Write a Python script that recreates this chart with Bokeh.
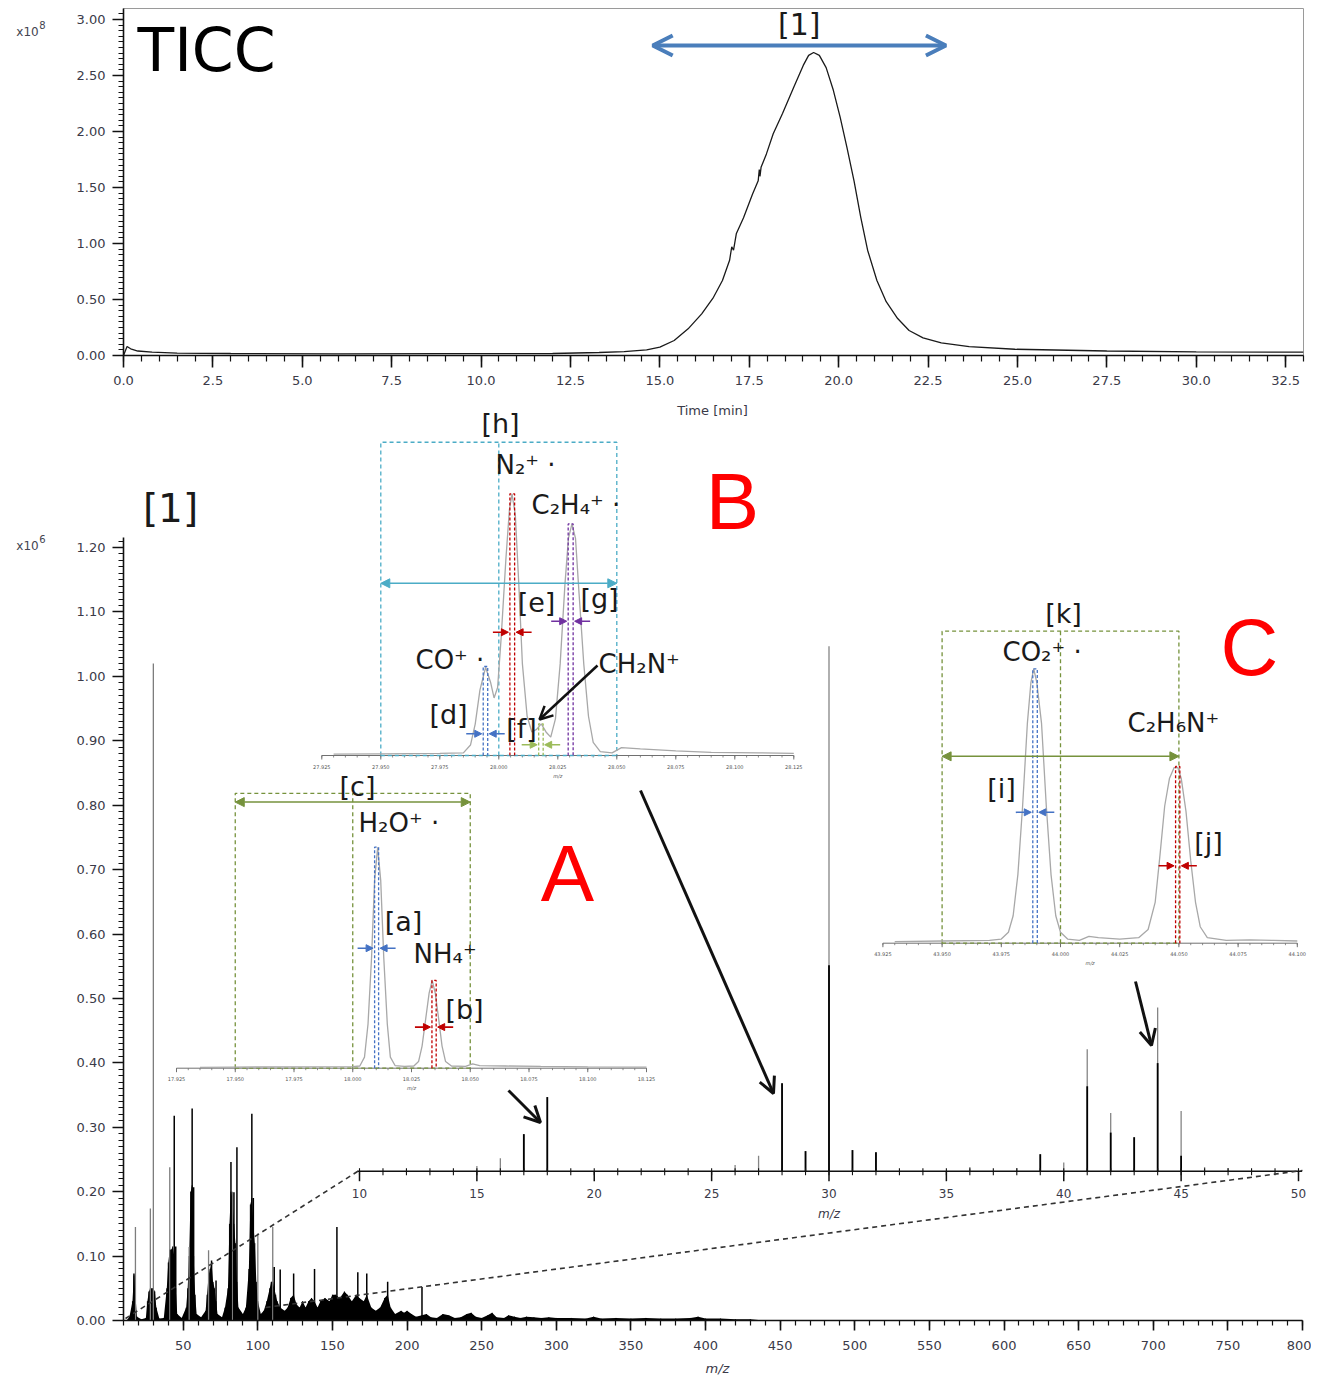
from bokeh.plotting import figure
from bokeh.models import (Range1d, FixedTicker, PrintfTickFormatter, Label, Arrow,
                          OpenHead, NormalHead)
from bokeh.layouts import column, row
from bokeh.core.properties import value
from bokeh.embed import file_html
from bokeh.resources import INLINE

# ======================= DATA =======================
# Total ion current chromatogram (x10^8)
ticc_time = [0.0, 0.1, 0.2, 0.4, 0.8, 1.5, 3.0, 6.0, 9.0, 12.0, 13.3, 14.0, 14.63, 15.0,
             15.4, 15.79, 16.17, 16.5, 16.75, 16.95, 17.01, 17.06, 17.14, 17.34, 17.59,
             17.75, 17.78, 17.8, 17.83, 17.98, 18.17, 18.43, 18.75, 19.01, 19.16, 19.3,
             19.46, 19.65, 19.85, 20.04, 20.23, 20.43, 20.62, 20.81, 21.07, 21.33, 21.65,
             21.97, 22.36, 22.87, 23.65, 24.93, 27.5, 30.0, 33.0]
ticc_int = [0.0, 0.08, 0.06, 0.04, 0.03, 0.022, 0.018, 0.015, 0.016, 0.018, 0.027, 0.035,
            0.05, 0.074, 0.134, 0.238, 0.372, 0.52, 0.67, 0.85, 0.97, 0.94, 1.09, 1.23,
            1.44, 1.56, 1.66, 1.6, 1.68, 1.8, 1.98, 2.16, 2.4, 2.59, 2.68, 2.705, 2.68,
            2.57, 2.37, 2.13, 1.86, 1.56, 1.23, 0.94, 0.67, 0.48, 0.33, 0.223, 0.158,
            0.113, 0.08, 0.056, 0.04, 0.033, 0.03]
tic_window = [14.8, 23.0]          # time window [1]

# Mass spectrum of window [1] (x10^6)
ms_thin_mz = [18, 28, 30, 41, 54, 67, 83, 100, 110]
ms_thin_int = [0.145, 0.174, 1.02, 0.238, 0.114, 0.109, 0.20, 0.135, 0.145]
ms_dark_mz = [17, 42, 44, 45, 56, 57, 69, 72, 82, 84, 86, 96, 97, 111, 115, 124, 138,
              153, 167, 173, 187, 210]
ms_dark_int = [0.073, 0.11, 0.318, 0.115, 0.329, 0.207, 0.093, 0.062, 0.246, 0.199,
               0.269, 0.321, 0.19, 0.083, 0.079, 0.073, 0.08, 0.145, 0.075, 0.073, 0.06,
               0.052]
ms_fill_mz = [12, 14, 16, 17, 18, 19, 22, 25, 26, 27, 28, 30, 31, 32, 34, 37, 39, 40, 41,
              42, 43, 44, 45, 46, 49, 52, 53, 54, 55, 56, 57, 58, 59, 62, 65, 66, 67, 68,
              69, 70, 71, 72, 73, 76, 78, 80, 81, 82, 83, 84, 85, 86, 87, 90, 92, 94, 95,
              96, 97, 98, 99, 100, 102, 104, 106, 108, 109, 110, 111, 112, 113, 115, 118,
              120, 122, 124, 126, 128, 130, 132, 134, 136, 138, 140, 142, 145, 148, 150,
              152, 155, 158, 160, 163, 166, 168, 171, 173, 176, 179, 182, 185, 187, 189,
              192, 196, 198, 200, 203, 206, 210, 213, 216, 220, 224, 228, 232, 236, 240,
              243, 246, 250, 254, 257, 260, 265, 268, 272, 276, 280, 285, 290, 295, 300,
              310, 320, 325, 330, 340, 350, 360, 370, 380, 390, 395, 400, 410, 420, 430,
              440]
ms_fill_int = [0.0, 0.006, 0.03, 0.07, 0.04, 0.006, 0.002, 0.004, 0.03, 0.045, 0.05, 0.05,
               0.045, 0.02, 0.003, 0.004, 0.05, 0.09, 0.11, 0.11, 0.115, 0.1, 0.05, 0.01,
               0.004, 0.02, 0.05, 0.1, 0.2, 0.21, 0.1, 0.04, 0.01, 0.005, 0.015, 0.04, 0.07,
               0.08, 0.09, 0.06, 0.05, 0.03, 0.01, 0.005, 0.02, 0.05, 0.15, 0.2, 0.19, 0.15,
               0.12, 0.06, 0.02, 0.01, 0.02, 0.08, 0.18, 0.19, 0.15, 0.12, 0.06, 0.03, 0.01,
               0.015, 0.03, 0.05, 0.06, 0.06, 0.05, 0.04, 0.03, 0.02, 0.015, 0.02, 0.035,
               0.04, 0.025, 0.02, 0.03, 0.02, 0.03, 0.035, 0.03, 0.02, 0.03, 0.035, 0.03,
               0.04, 0.04, 0.035, 0.045, 0.04, 0.03, 0.04, 0.035, 0.03, 0.04, 0.02, 0.015,
               0.02, 0.035, 0.04, 0.02, 0.01, 0.015, 0.012, 0.015, 0.01, 0.006, 0.008, 0.01,
               0.005, 0.004, 0.01, 0.008, 0.004, 0.005, 0.01, 0.012, 0.006, 0.004, 0.008,
               0.012, 0.005, 0.004, 0.008, 0.006, 0.004, 0.006, 0.005, 0.004, 0.005, 0.004,
               0.004, 0.003, 0.006, 0.003, 0.004, 0.003, 0.004, 0.003, 0.003, 0.004, 0.006,
               0.003, 0.003, 0.002, 0.002, 0.0]

# Expanded spectrum m/z 10-50 (x10^6)
zoom_mz = [15, 16, 17, 18, 26, 27, 28, 29, 30, 31, 32, 36, 38, 39, 40, 41, 42, 43, 44, 45,
           46, 47]
zoom_int = [0.01, 0.025, 0.072, 0.144, 0.012, 0.03, 0.171, 0.039, 1.02, 0.041, 0.037,
            0.008, 0.006, 0.033, 0.017, 0.237, 0.113, 0.066, 0.318, 0.117, 0.008, 0.006]
zoom_core_mz = [17, 18, 28, 29, 30, 31, 32, 39, 41, 42, 43, 44, 45]
zoom_core_int = [0.072, 0.144, 0.171, 0.039, 0.40, 0.041, 0.037, 0.033, 0.165, 0.075,
                 0.066, 0.21, 0.03]
zoom_ticks = [10, 15, 20, 25, 30, 35, 40, 45, 50]
zoom_tick_labels = ["10", "15", "20", "25", "30", "35", "40", "45", "50"]

# Inset A: nominal m/z 18 (relative %)
a_mz = [17.935, 17.950, 17.975, 18.000, 18.003, 18.005, 18.0065, 18.008, 18.0093, 18.0106,
        18.0119, 18.0132, 18.0147, 18.016, 18.018, 18.022, 18.026, 18.028, 18.0295, 18.031,
        18.0325, 18.0338, 18.0351, 18.0366, 18.038, 18.0395, 18.042, 18.048, 18.051,
        18.054, 18.065, 18.080, 18.100, 18.125]
a_rel = [0.4, 0.5, 0.6, 0.7, 1.0, 5, 20, 50, 85, 100, 85, 50, 20, 5, 1.2, 0.8, 1.0, 3, 10,
         22, 34, 39.7, 34, 22, 10, 3, 1, 0.8, 2, 1.2, 1.0, 0.8, 0.6, 0.5]
a_ticks = [17.925, 17.950, 17.975, 18.000, 18.025, 18.050, 18.075, 18.100, 18.125]
a_tick_labels = ["17.925", "17.950", "17.975", "18.000", "18.025", "18.050", "18.075",
                 "18.100", "18.125"]
a_peak_lo = [18.0093, 18.0337]
a_peak_hi = [18.0110, 18.0355]
a_peak_top = [100, 39.7]

# Inset B: nominal m/z 28
b_mz = [27.930, 27.950, 27.975, 27.985, 27.988, 27.990, 27.992, 27.9944, 27.9965, 27.998,
        27.9995, 28.001, 28.003, 28.0045, 28.0056, 28.007, 28.0085, 28.010, 28.012,
        28.014, 28.016, 28.018, 28.020, 28.022, 28.024, 28.026, 28.028, 28.0295, 28.031,
        28.0325, 28.034, 28.036, 28.038, 28.040, 28.043, 28.048, 28.052, 28.060, 28.075,
        28.090, 28.110, 28.125]
b_rel = [0.5, 0.6, 0.8, 1, 4, 12, 25, 33.7, 28, 22, 26, 45, 75, 94, 100, 92, 65, 35, 15, 9,
         10, 12.1, 9, 7, 14, 35, 65, 83, 88.5, 83, 62, 35, 15, 5, 1.5, 1, 3, 2.5, 1.8, 1.2,
         1, 0.8]
b_ticks = [27.925, 27.950, 27.975, 28.000, 28.025, 28.050, 28.075, 28.100, 28.125]
b_tick_labels = ["27.925", "27.950", "27.975", "28.000", "28.025", "28.050", "28.075",
                 "28.100", "28.125"]
b_peak_lo = [27.9934, 28.0047, 28.0169, 28.0294]
b_peak_hi = [27.9953, 28.0067, 28.0188, 28.0315]
b_peak_top = [34, 100, 12.1, 88.5]

# Inset C: nominal m/z 44
c_mz = [43.930, 43.950, 43.970, 43.975, 43.978, 43.980, 43.982, 43.984, 43.986, 43.9875,
        43.9887, 43.990, 43.992, 43.994, 43.996, 43.998, 44.000, 44.003, 44.008, 44.012,
        44.016, 44.025, 44.033, 44.037, 44.040, 44.042, 44.044, 44.046, 44.048, 44.0495,
        44.051, 44.053, 44.055, 44.057, 44.059, 44.062, 44.070, 44.080, 44.090, 44.100]
c_rel = [0.6, 0.8, 1, 1.5, 4, 10, 25, 50, 80, 95, 100, 95, 80, 50, 25, 10, 4, 1.5, 1, 2.5,
         2, 1.5, 2, 5, 15, 32, 50, 60, 64, 64.1, 60, 48, 30, 15, 6, 2, 1, 1.2, 1, 0.8]
c_ticks = [43.925, 43.950, 43.975, 44.000, 44.025, 44.050, 44.075, 44.100]
c_tick_labels = ["43.925", "43.950", "43.975", "44.000", "44.025", "44.050", "44.075",
                 "44.100"]
c_peak_lo = [43.9883, 44.0486]
c_peak_hi = [43.9902, 44.0504]
c_peak_top = [100, 64.4]

# ======================= LAYOUT HELPERS =======================
FONT = "DejaVu Sans"
TICK_COLOR = "#3a3a48"
STRIP = 60          # width of the left strip holding the axis multipliers

# top panel: page px -> data
def TX(px): return (px - 123) / (1180 / 33)
def TY(py): return (355 - py) / 112.0

# bottom panel: page px -> data
XS = (1302 - 123) / (800 - 10)
YS = 773 / 1.2
def BX(px): return 10 + (px - 123) / XS
def BY(py): return (1320 - py) / YS


def style_axis(ax, major_out, minor_out, standoff):
    ax.axis_line_color = "#111111"
    ax.axis_line_width = 1.6
    ax.major_tick_line_color = "#111111"
    ax.major_tick_line_width = 1.6
    ax.minor_tick_line_color = "#111111"
    ax.minor_tick_line_width = 1.2
    ax.major_tick_in = 0
    ax.major_tick_out = major_out
    ax.minor_tick_in = 0
    ax.minor_tick_out = minor_out
    ax.major_label_standoff = standoff
    ax.major_label_text_font = FONT
    ax.major_label_text_font_size = "13px"
    ax.major_label_text_color = TICK_COLOR


def label(fig, x, y, text, size, color="#1a1a1a", font=FONT, align="center",
          style="normal"):
    fig.add_layout(Label(x=x, y=y, text=text, text_font=font,
                         text_font_size=f"{size}px", text_color=color,
                         text_align=align, text_baseline="middle",
                         text_font_style=style))


def strip_fig(y0, y1, base, sup, exponent):
    """Left margin strip showing the axis multiplier 'x10^n' (y data = page px)."""
    s = figure(width=STRIP, height=y1 - y0, x_range=Range1d(0, STRIP),
               y_range=Range1d(y1, y0), output_backend="svg", toolbar_location=None,
               x_axis_location=None, y_axis_location=None,
               min_border_left=0, min_border_right=0, min_border_top=0,
               min_border_bottom=0)
    s.grid.visible = False
    s.outline_line_color = None
    s.text(x=[27], y=[base], text=["x10"], text_font=value(FONT), text_font_size="12px",
           text_align="center", text_baseline="middle", text_color="#444450")
    s.text(x=[42], y=[sup], text=[exponent], text_font=value(FONT),
           text_font_size="10px", text_align="center", text_baseline="middle",
           text_color="#444450")
    return s


# ======================= TOP: TICC =======================
top = figure(width=1311 - STRIP, height=400, x_range=Range1d(0, 33),
             y_range=Range1d(0, TY(8)), output_backend="svg", toolbar_location=None,
             min_border_left=123 - STRIP, min_border_right=8, min_border_top=8,
             min_border_bottom=45)
top.xgrid.visible = False
top.ygrid.visible = False
top.outline_line_color = "#9a9a9a"
top.xaxis.ticker = FixedTicker(ticks=[i * 2.5 for i in range(14)],
                               minor_ticks=[i * 0.5 for i in range(67)])
top.xaxis.formatter = PrintfTickFormatter(format="%.1f")
top.yaxis.ticker = FixedTicker(ticks=[i * 0.5 for i in range(7)],
                               minor_ticks=[i * 0.05 for i in range(62)])
top.yaxis.formatter = PrintfTickFormatter(format="%.2f")
style_axis(top.xaxis[0], 12, 6, 8)
style_axis(top.yaxis[0], 11, 5, 7)

top.line(ticc_time, ticc_int, line_color="#1a1a1a", line_width=1.3)

label(top, TX(137), TY(49), "TICC", 60, color="#000000", align="left")
label(top, (tic_window[0] + tic_window[1]) / 2, TY(24), "[1]", 30)
top.add_layout(Arrow(x_start=tic_window[0], y_start=TY(45), x_end=tic_window[1],
                     y_end=TY(45), line_color="#4A7EBB", line_width=4,
                     start=OpenHead(size=20, line_color="#4A7EBB", line_width=4),
                     end=OpenHead(size=20, line_color="#4A7EBB", line_width=4)))

# ======================= BOTTOM: spectrum =======================
# frame runs to the right edge of the canvas so that inset labels are not clipped;
# the m/z axis itself stops at 800
bot = figure(width=1311 - STRIP, height=986, x_range=Range1d(10, BX(1311)),
             y_range=Range1d(0, BY(400)), output_backend="svg", toolbar_location=None,
             min_border_left=123 - STRIP, min_border_right=0, min_border_top=0,
             min_border_bottom=66)
bot.xgrid.visible = False
bot.ygrid.visible = False
bot.outline_line_color = None
bot.xaxis.ticker = FixedTicker(ticks=list(range(50, 801, 50)),
                               minor_ticks=list(range(10, 801, 10)))
bot.xaxis.bounds = (10, 800)
bot.yaxis.ticker = FixedTicker(ticks=[i * 0.1 for i in range(13)],
                               minor_ticks=[i * 0.01 for i in range(122)])
bot.yaxis.formatter = PrintfTickFormatter(format="%.2f")
bot.yaxis.bounds = (0, 1.215)
style_axis(bot.xaxis[0], 10, 5, 10)
style_axis(bot.yaxis[0], 11, 5, 7)
bot.xaxis.axis_label = "m/z"
bot.xaxis.axis_label_text_font = FONT
bot.xaxis.axis_label_text_font_size = "13px"
bot.xaxis.axis_label_text_font_style = "italic"
bot.xaxis.axis_label_text_color = TICK_COLOR
bot.xaxis.axis_label_standoff = 8

label(bot, BX(712), BY(410), "Time [min]", 13, color=TICK_COLOR)
label(bot, BX(170), BY(508), "[1]", 39)

# main spectrum
bot.varea(x=ms_fill_mz, y1=0, y2=ms_fill_int, fill_color="#000000")
bot.segment(x0=ms_fill_mz, y0=0, x1=ms_fill_mz, y1=ms_fill_int, line_color="#000000",
            line_width=1)
bot.segment(x0=ms_thin_mz, y0=0, x1=ms_thin_mz, y1=ms_thin_int, line_color="#7d7d7d",
            line_width=1.3)
bot.segment(x0=ms_dark_mz, y0=0, x1=ms_dark_mz, y1=ms_dark_int, line_color="#000000",
            line_width=1.5)

# expanded region m/z 10-50
ZPY = 514.7
zoom = bot.subplot(x_source=Range1d(10, 50), y_source=Range1d(0, 1),
                   x_target=Range1d(BX(359), BX(1298)),
                   y_target=Range1d(BY(1170.7), BY(1170.7 - ZPY)))
zoom.segment(x0=zoom_mz, y0=0, x1=zoom_mz, y1=zoom_int, line_color="#858585",
             line_width=1.3)
zoom.segment(x0=zoom_core_mz, y0=0, x1=zoom_core_mz, y1=zoom_core_int,
             line_color="#000000", line_width=1.8)
zoom.segment(x0=[9.9], y0=[0], x1=[50.15], y1=[0], line_color="#111111", line_width=1.6)
zmin = list(range(10, 51))
zoom.segment(x0=zmin, y0=[3 / ZPY] * len(zmin), x1=zmin, y1=[-4 / ZPY] * len(zmin),
             line_color="#111111", line_width=1.1)
zoom.segment(x0=zoom_ticks, y0=[0] * len(zoom_ticks), x1=zoom_ticks,
             y1=[-10 / ZPY] * len(zoom_ticks), line_color="#111111", line_width=1.5)
zoom.text(x=zoom_ticks, y=[-22 / ZPY] * len(zoom_ticks), text=zoom_tick_labels,
          text_font=value(FONT), text_font_size="12px", text_align="center",
          text_baseline="middle", text_color=TICK_COLOR)
zoom.text(x=[30], y=[-43 / ZPY], text=["m/z"], text_font=value(FONT),
          text_font_size="12px", text_font_style="italic", text_align="center",
          text_baseline="middle", text_color=TICK_COLOR)

# dashed connectors from main spectrum to expanded axis
bot.segment(x0=[BX(125), BX(265)], y0=[BY(1318), BY(1307)],
            x1=[BX(357), BX(1302)], y1=[BY(1171), BY(1170)],
            line_color="#333333", line_width=1.6, line_dash="5 4")


class Inset:
    def __init__(self, fig, xs, px, base_py, top_py):
        self.fig = fig
        self.xs = xs
        self.px = px
        self.base = base_py
        self.ppx = (px[1] - px[0]) / (xs[1] - xs[0])
        self.ppy = (base_py - top_py) / 100.0
        self.sub = fig.subplot(x_source=Range1d(*xs), y_source=Range1d(0, 100),
                               x_target=Range1d(BX(px[0]), BX(px[1])),
                               y_target=Range1d(BY(base_py), BY(top_py)))

    def pgx(self, m):
        return self.px[0] + (m - self.xs[0]) * self.ppx

    def pgy(self, v):
        return self.base - v * self.ppy

    def axis(self, ticks, labels):
        s = self.sub
        lo, hi = self.xs
        s.segment(x0=[lo], y0=[0], x1=[hi], y1=[0], line_color="#707070", line_width=1)
        n = int(round((hi - lo) / 0.005)) + 1
        minor = [lo + i * 0.005 for i in range(n)]
        s.segment(x0=minor, y0=[0] * n, x1=minor, y1=[-2 / self.ppy] * n,
                  line_color="#707070", line_width=0.8)
        s.segment(x0=ticks, y0=[0] * len(ticks), x1=ticks,
                  y1=[-4 / self.ppy] * len(ticks), line_color="#707070", line_width=1)
        s.text(x=ticks, y=[-11 / self.ppy] * len(ticks), text=labels,
               text_font=value(FONT), text_font_size="5px", text_align="center",
               text_baseline="middle", text_color="#555555")
        s.text(x=[(lo + hi) / 2], y=[-20 / self.ppy], text=["m/z"],
               text_font=value(FONT), text_font_size="5px", text_font_style="italic",
               text_align="center", text_baseline="middle", text_color="#555555")

    def profile(self, mz, rel):
        self.sub.line(mz, rel, line_color="#a8a8a8", line_width=1.3)

    def box(self, x0, xm, x1, ytop, color, arrow_y):
        s = self.sub
        s.multi_line(xs=[[x0, x0, x1, x1], [xm, xm], [x0, x1]],
                     ys=[[0, ytop, ytop, 0], [0, ytop], [0, 0]],
                     line_color=color, line_width=1.3, line_dash="4 3")
        yy = BY(self.pgy(arrow_y))
        self.fig.add_layout(Arrow(
            x_start=BX(self.pgx(x0)), y_start=yy, x_end=BX(self.pgx(x1)), y_end=yy,
            line_color=color, line_width=1.5,
            start=NormalHead(size=9, fill_color=color, line_color=color),
            end=NormalHead(size=9, fill_color=color, line_color=color)))

    def peaks(self, lo, hi, tops, colors, levels):
        for l, h, t, c, lev in zip(lo, hi, tops, colors, levels):
            self.sub.multi_line(xs=[[l, l, h, h]], ys=[[0, t, t, 0]], line_color=c,
                                line_width=1.3, line_dash="3 2")
            yy = BY(self.pgy(lev))
            xl = self.pgx(l)
            xh = self.pgx(h)
            for a, b in ((xl - 17, xl - 1.5), (xh + 17, xh + 1.5)):
                self.fig.add_layout(Arrow(
                    x_start=BX(a), y_start=yy, x_end=BX(b), y_end=yy, line_color=c,
                    line_width=1.6,
                    end=NormalHead(size=7, fill_color=c, line_color=c)))


BLUE = "#4472C4"
RED = "#C00000"
GREEN = "#76923C"
LGREEN = "#9BBB59"
PURPLE = "#7030A0"
CYAN = "#4BACC6"

# ---- Inset A
A = Inset(bot, (17.925, 18.125), (176, 646), 1067.7, 846.7)
A.axis(a_ticks, a_tick_labels)
A.box(17.950, 18.000, 18.050, 124.4, GREEN, 120.4)
A.profile(a_mz, a_rel)
A.peaks(a_peak_lo, a_peak_hi, a_peak_top, [BLUE, RED], [54.3, 18.6])
label(bot, BX(357), BY(786), "[c]", 27)
label(bot, BX(358), BY(822), "H₂O⁺ ·", 26, align="left")
label(bot, BX(403), BY(921), "[a]", 27)
label(bot, BX(413), BY(953), "NH₄⁺", 26, align="left")
label(bot, BX(464), BY(1009), "[b]", 27)
label(bot, BX(567), BY(873), "A", 80, color="#FF0000", font="Liberation Sans")

# ---- Inset B
B = Inset(bot, (27.925, 28.125), (321.3, 793.3), 755, 493.3)
B.axis(b_ticks, b_tick_labels)
B.box(27.950, 28.000, 28.050, 119.7, CYAN, 65.8)
B.profile(b_mz, b_rel)
B.peaks(b_peak_lo, b_peak_hi, b_peak_top, [BLUE, RED, LGREEN, PURPLE],
        [8.3, 47.1, 4.1, 51.3])
label(bot, BX(500), BY(423), "[h]", 27)
label(bot, BX(495), BY(464), "N₂⁺ ·", 26, align="left")
label(bot, BX(531), BY(504), "C₂H₄⁺ ·", 26, align="left")
label(bot, BX(732), BY(501), "B", 80, color="#FF0000", font="Liberation Sans")
label(bot, BX(536), BY(602), "[e]", 27)
label(bot, BX(599), BY(598), "[g]", 27)
label(bot, BX(415), BY(659), "CO⁺ ·", 26, align="left")
label(bot, BX(448), BY(714), "[d]", 27)
label(bot, BX(521), BY(728), "[f]", 27)
label(bot, BX(598), BY(663), "CH₂N⁺", 26, align="left")
bot.add_layout(Arrow(x_start=BX(597), y_start=BY(665), x_end=BX(539), y_end=BY(719),
                     line_color="#111111", line_width=2.5,
                     end=OpenHead(size=13, line_color="#111111", line_width=2.5)))

# ---- Inset C
C = Inset(bot, (43.925, 44.100), (882.4, 1296.8), 942.7, 668.3)
C.axis(c_ticks, c_tick_labels)
C.box(43.950, 44.000, 44.050, 113.7, GREEN, 68.1)
C.profile(c_mz, c_rel)
C.peaks(c_peak_lo, c_peak_hi, c_peak_top, [BLUE, RED], [47.7, 28.2])
label(bot, BX(1063), BY(613), "[k]", 27)
label(bot, BX(1002), BY(651), "CO₂⁺ ·", 26, align="left")
label(bot, BX(1249), BY(647), "C", 80, color="#FF0000", font="Liberation Sans")
label(bot, BX(1127), BY(722), "C₂H₆N⁺", 26, align="left")
label(bot, BX(1001), BY(788), "[i]", 27)
label(bot, BX(1208), BY(842), "[j]", 27)

# ---- pointer arrows from insets to peaks
for (x0, y0, x1, y1) in ((640, 790, 773, 1093), (508, 1090, 540, 1122),
                         (1135, 981, 1151, 1045)):
    bot.add_layout(Arrow(x_start=BX(x0), y_start=BY(y0), x_end=BX(x1), y_end=BY(y1),
                         line_color="#111111", line_width=3,
                         end=OpenHead(size=16, line_color="#111111", line_width=3)))

layout = column(row(strip_fig(0, 400, 27, 19, "8"), top, spacing=0),
                row(strip_fig(400, 1386, 556, 548, "6"), bot, spacing=0), spacing=0)
open("out.html", "w").write(file_html(layout, INLINE))
